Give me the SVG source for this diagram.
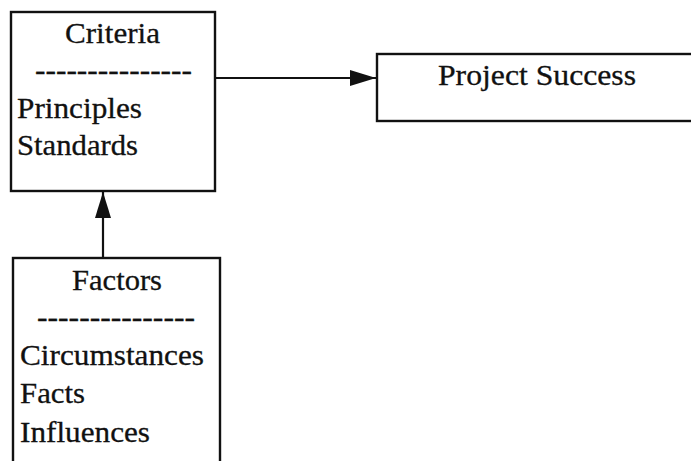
<svg xmlns="http://www.w3.org/2000/svg" width="691" height="461" viewBox="0 0 691 461">
<style>
.box{fill:#fff;stroke:#111;stroke-width:2.4}
.t{font-family:"Liberation Serif","Times New Roman",Times,serif;font-size:30px;fill:#111;stroke:#111;stroke-width:0.3}
.c{stroke:#111;stroke-width:2.2;fill:none}
</style>
<defs>
<marker id="ah" markerWidth="26" markerHeight="16" refX="26" refY="8" orient="auto" markerUnits="userSpaceOnUse">
<path d="M0,0 L26,8 L0,16 Z" fill="#111"/>
</marker>
</defs>
<rect width="691" height="461" fill="#fff"/>
<g id="connectors">
<line class="c" x1="216" y1="78" x2="376" y2="78" marker-end="url(#ah)"/>
<line class="c" x1="103" y1="258" x2="103" y2="192" marker-end="url(#ah)"/>
</g>
<g id="criteria">
<rect class="box" x="11" y="12" width="204" height="179"/>
<text class="t" x="65" y="43" textLength="95" lengthAdjust="spacingAndGlyphs">Criteria</text>
<text class="t" x="35" y="80" textLength="157" lengthAdjust="spacingAndGlyphs">---------------</text>
<text class="t" x="17" y="118" textLength="125" lengthAdjust="spacingAndGlyphs">Principles</text>
<text class="t" x="17" y="155" textLength="121" lengthAdjust="spacingAndGlyphs">Standards</text>
</g>
<g id="project-success">
<rect class="box" x="377" y="54" width="320" height="67"/>
<text class="t" x="438" y="85" textLength="198" lengthAdjust="spacingAndGlyphs">Project Success</text>
</g>
<g id="factors">
<rect class="box" x="13" y="258" width="207" height="220"/>
<text class="t" x="72" y="290" textLength="90" lengthAdjust="spacingAndGlyphs">Factors</text>
<text class="t" x="37" y="327" textLength="158" lengthAdjust="spacingAndGlyphs">---------------</text>
<text class="t" x="20" y="365" textLength="184" lengthAdjust="spacingAndGlyphs">Circumstances</text>
<text class="t" x="20" y="403" textLength="65" lengthAdjust="spacingAndGlyphs">Facts</text>
<text class="t" x="20" y="442" textLength="130" lengthAdjust="spacingAndGlyphs">Influences</text>
</g>
</svg>
